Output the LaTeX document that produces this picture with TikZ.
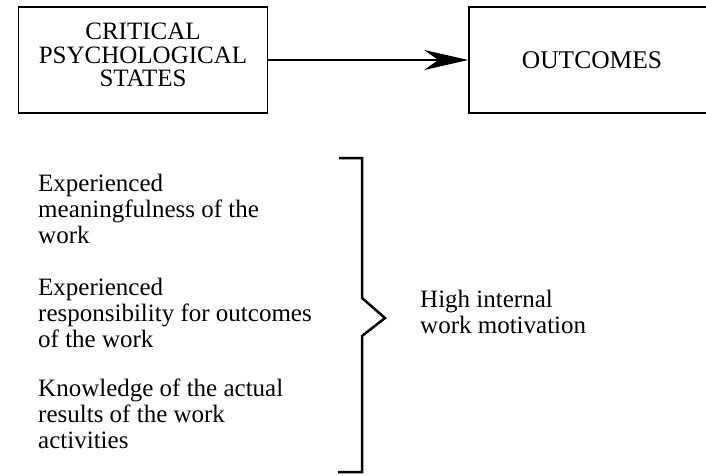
\documentclass[tikz,border=0pt]{standalone}
\usepackage{fontspec}
\setmainfont{Liberation Serif}
\usetikzlibrary{arrows.meta, positioning}

\begin{document}
\begin{tikzpicture}[x=1pt, y=-1pt,
    box/.style={draw, line width=1.6pt, inner sep=0pt, align=center},
    item/.style={inner sep=0pt, anchor=base west, align=left,
        font=\fontsize{25}{25.6}\selectfont}]
    \clip (0,0) rectangle (706,475);

    \node[box, minimum width=249pt, minimum height=106pt, text depth=10pt,
        font=\fontsize{25}{23.5}\selectfont] (states) at (143,60)
        {CRITICAL\\PSYCHOLOGICAL\\STATES};
    \node[box, minimum width=246pt, minimum height=106pt,
        font=\fontsize{25.5}{25}\selectfont] (outcomes) at (592,60) {OUTCOMES};

    \draw[line width=1.8pt, -{Stealth[length=44pt, width=20pt, inset=14pt]}]
        (states) -- (outcomes);

    % the three states (base = last line)
    \node[item] (meaning) at (38,243) {Experienced\\meaningfulness of the\\work};
    \node[item] (respons) at (38,347) {Experienced\\responsibility for outcomes\\of the work};
    \node[item] (knowledge) at (38,448) {Knowledge of the actual\\results of the work\\activities};

    % bracket
    \draw[line width=2.5pt] (339,158) -- (362,158) -- (362,298) -- (385,318)
        -- (362,336) -- (362,472) -- (338,472);
    \node[item] (motivation) at (420,333) {High internal\\work motivation};
\end{tikzpicture}
\end{document}
